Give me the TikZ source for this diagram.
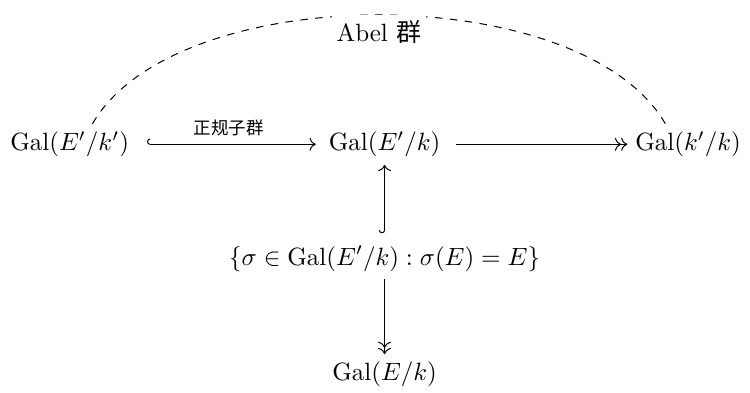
\documentclass[tikz,border=0pt]{standalone}
\usepackage{fontspec}
\newfontfamily\cjk{Noto Sans CJK SC}
\usetikzlibrary{arrows.meta}
\tikzset{
  obj/.style={inner sep=3pt},
  incl/.style={{Hooks[right]}->},
  onto/.style={->>},
  tag/.style={font=\scriptsize\cjk,above},
}
\newcommand{\Gal}{\mathrm{Gal}}

\begin{document}
\begin{tikzpicture}
  \useasboundingbox (0,0) rectangle (10.55,-5.515);
  % rows
  \node[obj] (sub) at (0.98,-2.03) {$\Gal(E'/k')$};
  \node[obj] (mid) at (5.41,-2.03) {$\Gal(E'/k)$};
  \node[obj] (quot) at (9.68,-2.03) {$\Gal(k'/k)$};
  \node[obj] (stab) at (5.41,-3.64) {$\{\sigma\in\Gal(E'/k):\sigma(E)=E\}$};
  \node[obj] (res) at (5.41,-5.27) {$\Gal(E/k)$};
  % arrows
  \draw[incl,shorten <=4pt,shorten >=2pt] (sub) -- node[tag] {正规子群} (mid);
  \draw[onto,shorten <=3pt] (mid) -- (quot);
  \draw[incl,shorten <=2pt] (stab) -- (mid);
  \draw[onto] (stab) -- (res);
  \draw[dashed] (sub.42) to[out=60,in=120,looseness=0.75]
    node[below,fill=white,inner sep=2pt] {Abel {\cjk 群}} (quot.138);
\end{tikzpicture}
\end{document}
